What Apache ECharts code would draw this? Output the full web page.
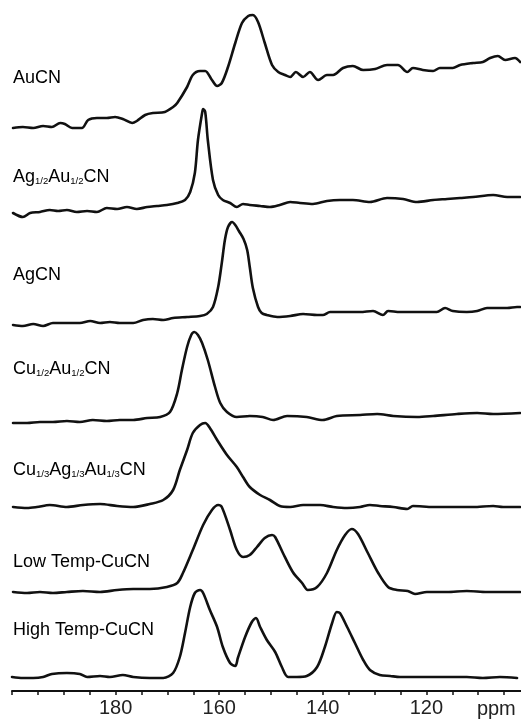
<!DOCTYPE html>
<html>
<head>
<meta charset="utf-8">
<script src="https://cdn.jsdelivr.net/npm/echarts@6/dist/echarts.min.js"></script>
<style>
html,body{margin:0;padding:0;background:#fff;}
#chart{width:521px;height:721px;}
</style>
</head>
<body>
<div id="chart"></div>
<script>
// ---- Data: [ppm, intensity] pairs ----
const names = ['AuCN', 'Ag1/2Au1/2CN', 'AgCN', 'Cu1/2Au1/2CN', 'Cu1/3Ag1/3Au1/3CN', 'Low Temp-CuCN', 'High Temp-CuCN'];
const offsets = [563, 476, 366, 268, 184, 99, 14];

const auCN = [[199.8,0],[197.9,1],[195.9,0],[194.0,2],[192.3,1],[190.7,5],[189.8,4],[188.4,0],[186.5,0],[185.3,8],[183.6,10],[181.7,10],[180.1,11],[178.6,9],[176.8,5],[175.9,7],[174.3,13],[172.8,15],[170.5,16],[168.9,21],[168.1,25],[166.2,41],[165.1,53],[163.7,57],[162.7,57],[161.4,48],[160.4,42],[159.5,45],[158.3,61],[156.9,85],[155.6,105],[154.4,112],[153.5,113],[152.5,106],[151.2,85],[149.8,63],[148.6,56],[147.3,53],[146.3,51],[145.2,56],[143.8,51],[142.5,56],[140.9,48],[139.2,53],[138.0,53],[136.1,60],[134.2,62],[132.2,58],[129.9,59],[127.6,63],[125.5,63],[123.7,56],[122.6,60],[120.7,58],[118.7,57],[117.4,60],[114.9,60],[113.5,63],[111.0,65],[109.1,66],[107.7,70],[106.2,72],[104.8,68],[102.9,70],[101.9,66]];

const agAuCN = [[199.8,2],[197.9,-2],[196.5,2],[194.6,3],[192.7,5],[191.1,4],[189.4,5],[187.5,3],[185.5,4],[183.6,3],[181.7,7],[179.7,6],[177.8,8],[175.9,6],[173.9,8],[172.0,9],[170.1,10],[168.1,12],[166.6,15],[165.6,23],[164.7,42],[164.1,75],[163.3,102],[163.1,106],[162.7,103],[162.2,75],[161.2,35],[160.2,20],[159.3,15],[157.9,12],[156.6,8],[155.4,11],[154.1,10],[152.1,9],[150.2,8],[148.3,10],[146.3,13],[144.4,12],[141.9,11],[139.2,14],[136.7,15],[134.2,15],[130.9,13],[127.6,17],[124.5,16],[121.8,13],[118.7,15],[116.0,16],[113.5,17],[111.0,18],[107.1,20],[104.4,18],[101.9,18]];

const agCN = [[199.8,0],[197.9,-1],[195.9,1],[194.0,-1],[192.1,2],[189.4,2],[186.9,2],[184.9,4],[183.0,2],[181.1,3],[179.2,2],[176.6,2],[174.7,5],[172.8,6],[170.8,5],[168.9,7],[166.2,8],[163.7,9],[162.4,11],[161.2,18],[160.2,38],[159.5,62],[158.9,85],[158.3,98],[157.5,103],[156.9,100],[156.2,94],[155.3,86],[154.6,75],[154.1,58],[153.5,37],[152.5,18],[151.8,12],[150.8,10],[148.8,8],[146.3,9],[143.8,11],[141.1,10],[140.0,10],[138.6,13],[135.3,13],[132.8,13],[130.3,14],[128.4,10],[127.4,14],[125.1,13],[121.8,13],[118.0,13],[116.4,17],[114.9,14],[112.2,13],[110.2,14],[108.3,17],[106.4,17],[104.4,17],[102.5,18],[101.9,18]];

const cuAuCN = [[199.8,0],[197.1,0],[194.6,1],[192.1,1],[189.4,2],[186.9,1],[184.4,3],[181.7,2],[179.2,3],[176.6,3],[173.9,5],[171.4,6],[169.5,11],[168.1,30],[167.2,53],[166.2,76],[165.4,88],[164.8,91],[164.1,88],[163.3,80],[162.2,63],[160.8,36],[159.8,20],[158.5,11],[156.6,6],[154.1,7],[151.6,6],[149.6,3],[146.9,7],[143.1,6],[140.0,3],[137.3,7],[132.8,8],[129.5,9],[126.4,7],[121.8,6],[118.7,7],[114.1,9],[110.2,10],[107.1,9],[101.9,10]];

const cuAgAuCN = [[199.8,0],[197.1,-1],[195.2,0],[192.7,2],[189.4,0],[186.3,2],[183.0,3],[179.7,1],[176.6,0],[173.4,3],[170.8,7],[168.9,17],[167.6,37],[166.2,57],[165.1,74],[163.7,82],[162.7,84],[161.8,79],[160.4,67],[158.5,52],[156.6,40],[155.4,30],[154.1,20],[152.1,12],[150.2,7],[148.3,1],[146.3,0],[143.8,2],[140.5,2],[138.0,0],[135.3,-1],[132.8,0],[130.9,2],[129.0,1],[126.4,0],[123.7,-2],[122.6,1],[118.7,0],[114.9,0],[111.0,0],[107.1,1],[105.2,0],[101.9,0]];

const lowTempCuCN = [[199.8,0],[197.1,-1],[194.6,0],[192.1,-1],[189.4,0],[186.3,1],[183.0,0],[179.7,2],[176.6,3],[173.4,3],[170.1,5],[168.1,9],[167.0,19],[165.1,42],[163.1,67],[161.4,82],[160.2,87],[159.5,85],[157.9,62],[156.6,42],[155.4,35],[154.1,37],[152.7,45],[151.2,54],[149.8,57],[149.2,55],[147.7,39],[145.8,20],[144.0,9],[142.9,2],[141.1,5],[139.2,19],[137.3,42],[135.7,57],[134.4,63],[133.2,58],[131.3,39],[129.3,19],[127.4,5],[125.7,2],[123.6,1],[122.2,-2],[119.9,0],[116.0,0],[112.2,1],[108.3,0],[104.4,0],[101.9,0]];

const highTempCuCN = [[200.0,0],[197.9,-1],[195.9,-1],[194.0,0],[192.3,3],[189.4,4],[186.9,3],[185.5,0],[183.0,1],[181.1,0],[178.6,2],[176.6,0],[173.4,-1],[170.8,-1],[168.9,4],[167.6,20],[166.6,44],[165.6,70],[164.7,84],[163.7,87],[163.1,84],[161.8,67],[160.4,50],[159.3,30],[157.9,14],[156.9,11],[156.4,19],[155.0,40],[153.7,55],[152.9,59],[152.1,50],[150.8,37],[149.2,25],[147.9,10],[146.7,0],[145.0,0],[143.1,1],[141.1,10],[139.6,30],[138.2,54],[137.3,65],[136.7,64],[135.3,50],[133.8,34],[132.2,17],[130.9,7],[129.0,2],[127.0,1],[125.1,0],[118.7,0],[112.2,0],[109.1,-1],[105.8,0],[102.5,-1]];

const spectra = [auCN, agAuCN, agCN, cuAuCN, cuAgAuCN, lowTempCuCN, highTempCuCN];

// Label rich strings (subscripts)
const labelTexts = [
  '{n|AuCN}',
  '{n|Ag}{s|1/2}{n|Au}{s|1/2}{n|CN}',
  '{n|AgCN}',
  '{n|Cu}{s|1/2}{n|Au}{s|1/2}{n|CN}',
  '{n|Cu}{s|1/3}{n|Ag}{s|1/3}{n|Au}{s|1/3}{n|CN}',
  '{n|Low Temp-CuCN}',
  '{n|High Temp-CuCN}'
];
const labelY = [78, 177, 275, 369, 470, 562, 630];

const xTicks = [180, 160, 140, 120];

const chart = echarts.init(document.getElementById('chart'), null, {renderer: 'canvas'});
const FONT = '"Liberation Sans", Arial, Helvetica, sans-serif';

const series = spectra.map((s, i) => ({
  name: names[i],
  type: 'line',
  showSymbol: false,
  symbol: 'none',
  smooth: 0.3,
  lineStyle: {color: '#111', width: 2.6, join: 'round', cap: 'round'},
  data: s.map(p => [p[0], offsets[i] + p[1]]),
  animation: false,
  silent: true
}));

const rich = {
  n: {fontSize: 18, fontFamily: FONT, color: '#222', verticalAlign: 'bottom'},
  s: {fontSize: 9.5, fontFamily: FONT, color: '#222', verticalAlign: 'bottom'}
};

chart.setOption({
  animation: false,
  backgroundColor: '#fff',
  grid: {left: 12, right: -9, top: 0, bottom: 30, containLabel: false, outerBoundsMode: 'none'},
  xAxis: {
    type: 'value',
    min: 100,
    max: 200,
    interval: 5,
    inverse: true,
    axisLine: {show: true, lineStyle: {color: '#111', width: 2}},
    axisTick: {show: true, length: 4, lineStyle: {color: '#111', width: 1.5}},
    splitLine: {show: false},
    axisLabel: {
      fontSize: 20,
      fontFamily: FONT,
      color: '#222',
      margin: 7,
      formatter: v => (xTicks.indexOf(v) >= 0 ? String(v) : '')
    }
  },
  yAxis: {type: 'value', min: 0, max: 691, show: false},
  series: series
});

const ppmX = chart.convertToPixel({xAxisIndex: 0}, 106.5);
const graphics = labelTexts.map((t, i) => ({
  type: 'text',
  x: 13,
  y: labelY[i],
  silent: true,
  style: {text: t, rich: rich, verticalAlign: 'middle', align: 'left'}
}));
graphics.push({
  type: 'text',
  x: ppmX,
  y: 699,
  silent: true,
  style: {text: 'ppm', fontSize: 20, fontFamily: FONT, fill: '#222', align: 'center', verticalAlign: 'top'}
});
chart.setOption({graphic: graphics});
</script>
</body>
</html>
